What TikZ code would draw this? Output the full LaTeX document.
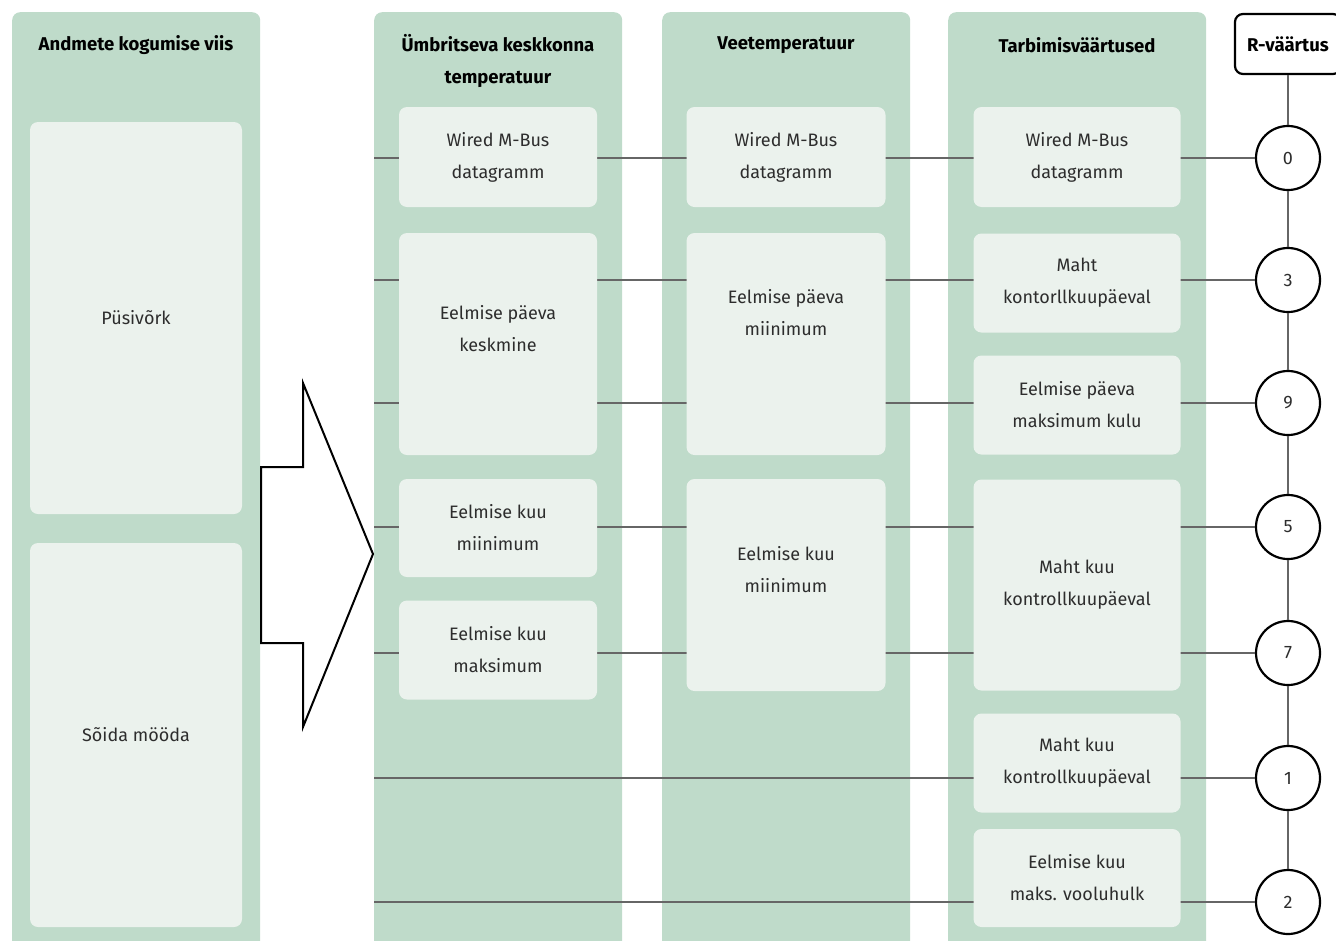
\documentclass[tikz,border=0pt]{standalone}
\usepackage{fontspec}
\setmainfont{Fira Sans}
\usepackage{tikz}
\definecolor{colgreen}{RGB}{191,219,202}
\definecolor{cellgreen}{RGB}{235,242,237}
\definecolor{linkgray}{RGB}{102,102,102}
\definecolor{txtgray}{RGB}{45,45,45}

\tikzset{
  col/.style={fill=colgreen,rounded corners=8,anchor=north west,inner sep=0},
  head/.style={font=\fontsize{18.5}{32}\selectfont\bfseries,align=center,text=black},
  cell/.style={fill=cellgreen,rounded corners=8,inner sep=0,align=center,
    font=\fontsize{18}{32}\selectfont,text=txtgray},
  rval/.style={circle,draw,line width=2.2,fill=white,minimum size=64,inner sep=0,
    font=\fontsize{18}{20}\selectfont,text=txtgray},
  link/.style={draw=linkgray,line width=2.2}
}

\begin{document}
\begin{tikzpicture}[x=1pt,y=-1pt]
    \useasboundingbox (0,0) rectangle (1336,940);
    \clip (0,0) rectangle (1336,940);

    \node[col,minimum width=248,minimum height=950] (colviis) at (12,12) {};
    \node[col,minimum width=248,minimum height=950] (colymbr) at (374,12) {};
    \node[col,minimum width=248,minimum height=950] (colvesi) at (662,12) {};
    \node[col,minimum width=258,minimum height=950] (coltarb) at (948,12) {};

    \node[head] (hviis) at (136,45) {Andmete kogumise viis};
    \node[head] (hymbr) at (498,61) {Ümbritseva keskkonna\\temperatuur};
    \node[head] (hvesi) at (786,45) {Veetemperatuur};
    \node[head] (htarb) at (1077,45) {Tarbimisväärtused};
    \node[draw,line width=2.2,rounded corners=8,fill=white,minimum width=106,minimum height=60,
      font=\fontsize{18.5}{20}\selectfont\bfseries] (rbox) at (1288,44) {R-väärtus};

    \node[cell,minimum width=212,minimum height=392] (pysi) at (136,318) {Püsivõrk};
    \node[cell,minimum width=212,minimum height=384] (soida) at (136,735) {Sõida mööda};

    \node[rval] (r0) at (1288,158) {0};
    \node[rval] (r3) at (1288,280) {3};
    \node[rval] (r9) at (1288,403) {9};
    \node[rval] (r5) at (1288,527) {5};
    \node[rval] (r7) at (1288,653) {7};
    \node[rval] (r1) at (1288,778) {1};
    \node[rval] (r2) at (1288,902) {2};

    \coordinate (s0) at (374,158);
    \coordinate (s3) at (374,280);
    \coordinate (s9) at (374,403);
    \coordinate (s5) at (374,527);
    \coordinate (s7) at (374,653);
    \coordinate (s1) at (374,778);
    \coordinate (s2) at (374,902);

    \draw[link] (rbox) -- (r0);
    \draw[link] (r0) -- (r3);
    \draw[link] (r3) -- (r9);
    \draw[link] (r9) -- (r5);
    \draw[link] (r5) -- (r7);
    \draw[link] (r7) -- (r1);
    \draw[link] (r1) -- (r2);

    \draw[link] (s0) -- (r0);
    \draw[link] (s3) -- (r3);
    \draw[link] (s9) -- (r9);
    \draw[link] (s5) -- (r5);
    \draw[link] (s7) -- (r7);
    \draw[link] (s1) -- (r1);
    \draw[link] (s2) -- (r2);

    \node[cell,minimum width=198,minimum height=100] (ymbrbus) at (498,157) {Wired M-Bus\\datagramm};
    \node[cell,minimum width=198,minimum height=222,
      label={[cell,fill=none,yshift=15]center:{Eelmise päeva\\keskmine}}] (ymbrpaev) at (498,344) {};
    \node[cell,minimum width=198,minimum height=98] (ymbrkmin) at (498,528) {Eelmise kuu\\miinimum};
    \node[cell,minimum width=198,minimum height=99] (ymbrkmax) at (498,650) {Eelmise kuu\\maksimum};

    \node[cell,minimum width=199,minimum height=100] (vesibus) at (786,157) {Wired M-Bus\\datagramm};
    \node[cell,minimum width=199,minimum height=222,
      label={[cell,fill=none,yshift=31]center:{Eelmise päeva\\miinimum}}] (vesipaev) at (786,344) {};
    \node[cell,minimum width=199,minimum height=212,
      label={[cell,fill=none,yshift=15]center:{Eelmise kuu\\miinimum}}] (vesikmin) at (786,585) {};

    \node[cell,minimum width=207,minimum height=100] (tarbbus) at (1077,157) {Wired M-Bus\\datagramm};
    \node[cell,minimum width=207,minimum height=99] (tarbmaht) at (1077,283) {Maht\\kontorllkuupäeval};
    \node[cell,minimum width=207,minimum height=99] (tarbpmax) at (1077,405) {Eelmise päeva\\maksimum kulu};
    \node[cell,minimum width=207,minimum height=211] (tarbkuu) at (1077,585) {Maht kuu\\kontrollkuupäeval};
    \node[cell,minimum width=207,minimum height=99] (tarbkuub) at (1077,763) {Maht kuu\\kontrollkuupäeval};
    \node[cell,minimum width=207,minimum height=98] (tarbvool) at (1077,878) {Eelmise kuu\\maks. vooluhulk};

    \draw[line width=2,fill=white,line join=miter] (261,467) -- (303,467) -- (303,383) -- (373,554)
      -- (303,727) -- (303,643) -- (261,643) -- cycle;
\end{tikzpicture}
\end{document}
